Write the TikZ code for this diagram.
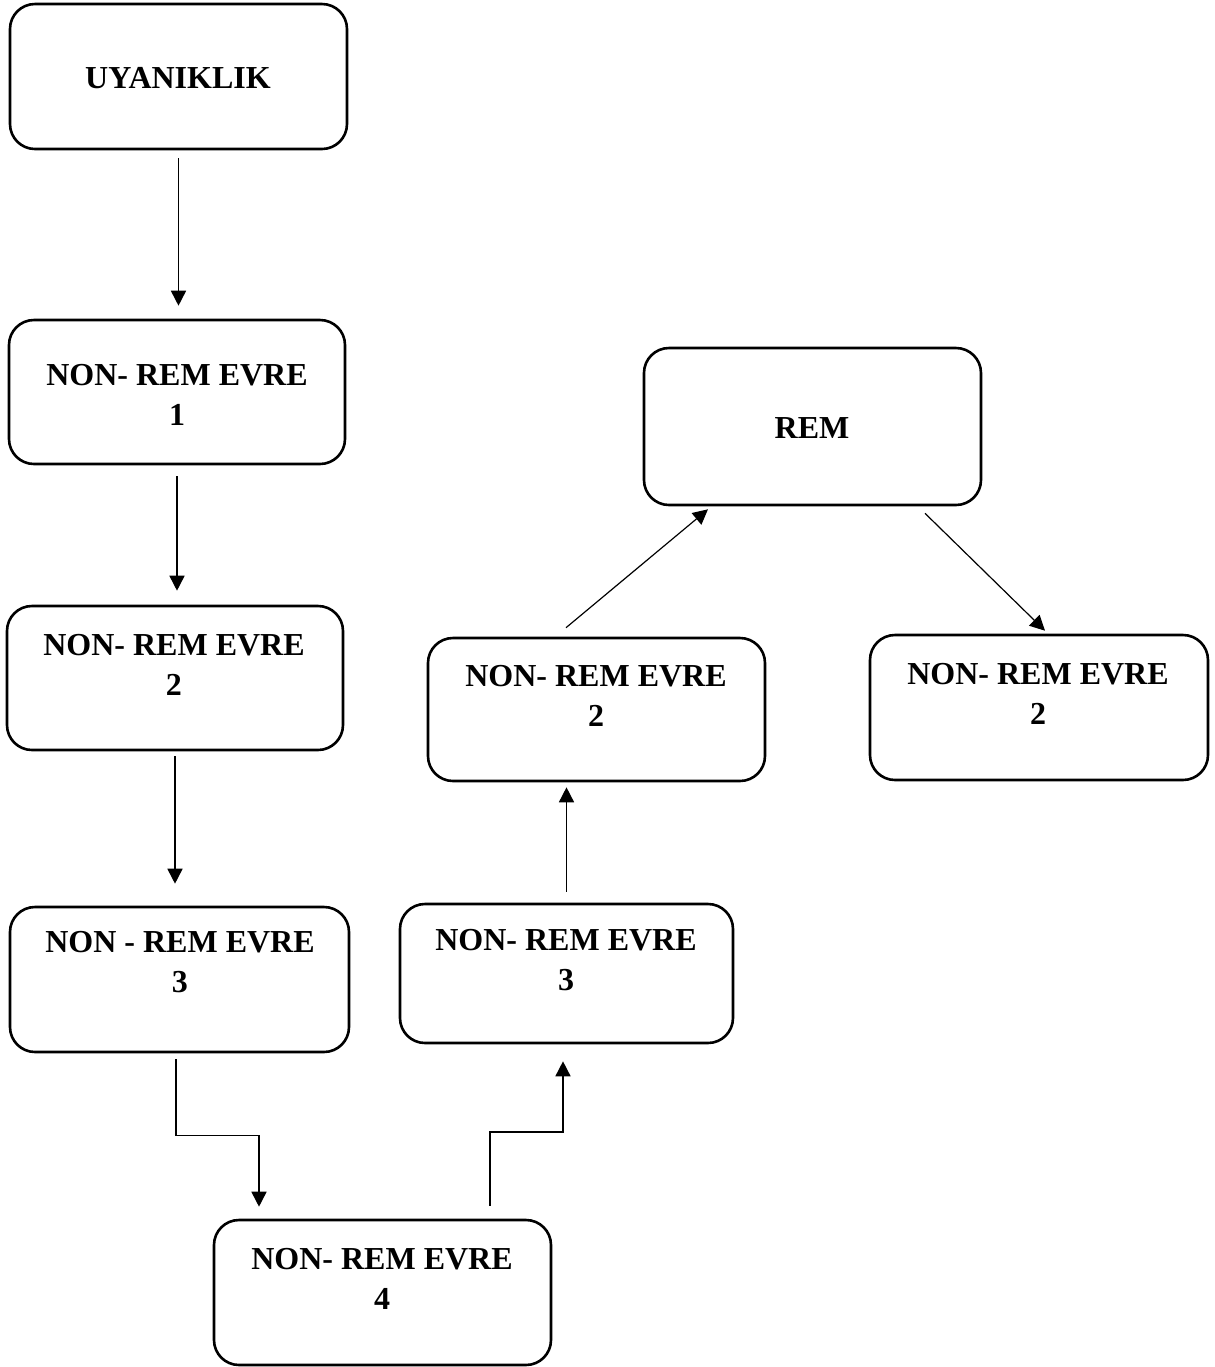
\documentclass[tikz,border=0pt]{standalone}
\usepackage{fontspec}
\setmainfont{Liberation Serif}
\usetikzlibrary{arrows.meta}
\begin{document}
\begin{tikzpicture}[x=0.5pt,y=-0.5pt,
  box/.style={draw,line width=1.3pt,rounded corners=12.5pt,inner sep=0pt,minimum width=168pt,minimum height=72pt},
  lbl/.style={font=\fontsize{16}{20}\selectfont\bfseries,align=center,inner sep=0pt},
  arr/.style={line width=0.8pt,-{Triangle[length=7.5pt,width=7.5pt]}},
  darr/.style={line width=0.6pt,-{Triangle[length=7.5pt,width=7.5pt]}}]
\useasboundingbox (0,0) rectangle (1215,1367);
% boxes
\node[box,minimum width=168.5pt,minimum height=72.5pt] (b1) at (178.5,76.5) {};
\node[box] (b2) at (177,392) {};
\node[box] (b3) at (175,678) {};
\node[box,minimum width=169.5pt,minimum height=72.5pt] (b4) at (179.5,979.5) {};
\node[box,minimum width=168.5pt,minimum height=72.5pt] (b5) at (382.5,1292.5) {};
\node[box,minimum width=166.5pt,minimum height=69.5pt] (b6) at (566.5,973.5) {};
\node[box,minimum width=168.5pt,minimum height=71.5pt] (b7) at (596.5,709.5) {};
\node[box,minimum width=168.5pt,minimum height=78.5pt] (b8) at (812.5,426.5) {};
\node[box,minimum width=169pt,minimum height=72.5pt] (b9) at (1039,707.5) {};
% texts
\node[lbl] (t1) at (178,78) {UYANIKLIK};
\node[lbl] (t2) at (177,395) {NON- REM EVRE\\1};
\node[lbl] (t3) at (174,664.5) {NON- REM EVRE\\2};
\node[lbl] (t4) at (180,962.5) {NON - REM EVRE\\3};
\node[lbl] (t5) at (382,1278.5) {NON- REM EVRE\\4};
\node[lbl] (t6) at (566,960.5) {NON- REM EVRE\\3};
\node[lbl] (t7) at (596,696) {NON- REM EVRE\\2};
\node[lbl] (t8) at (812,428) {REM};
\node[lbl] (t9) at (1038,694) {NON- REM EVRE\\2};
% connectors
\draw[arr,shorten <=4pt,shorten >=6.5pt] (b1.south) -- (b1.south |- b2.north);
\draw[arr,shorten <=5.5pt,shorten >=7pt] (b2.south) -- (b2.south |- b3.north);
\draw[arr,shorten <=2.5pt,shorten >=11pt] (b3.south) -- (b3.south |- b4.north);
\draw[arr,shorten <=3pt,shorten >=6pt] ([xshift=-1.75pt]b4.south) -- ++(0,82) -| ([xshift=-61.75pt]b5.north);
\draw[arr,shorten <=6.5pt,shorten >=8.5pt] ([xshift=53.75pt]b5.north) -- ++(0,-87) -| ([xshift=-1.75pt]b6.south);
\draw[arr,shorten <=5.5pt,shorten >=2.5pt] (b6.north) -- (b6.north |- b7.south);
\draw[darr] ([xshift=-15.25pt,yshift=4.5pt]b7.north) -- ([xshift=-52.25pt,yshift=-1.5pt]b8.south);
\draw[darr] ([xshift=56.25pt,yshift=-3.5pt]b8.south) -- ([xshift=3pt,yshift=1.5pt]b9.north);
\end{tikzpicture}
\end{document}
